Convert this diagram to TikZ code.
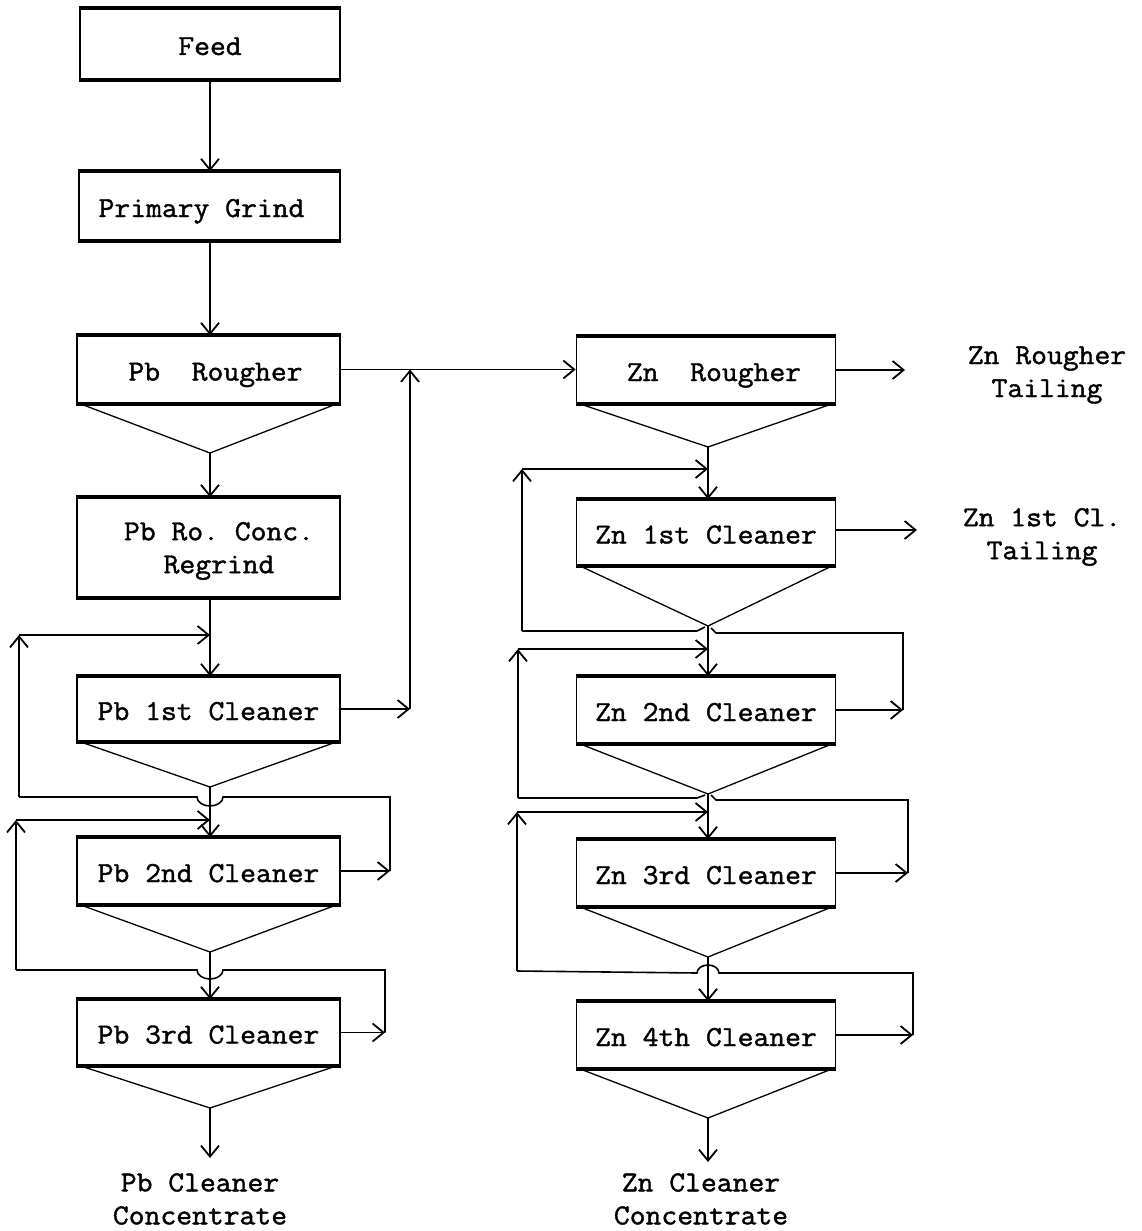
\documentclass[tikz,border=0pt]{standalone}
\usepackage{fontspec}
\setmonofont[FakeBold=1.4,FakeStretch=1.06]{Latin Modern Mono}
\usetikzlibrary{arrows.meta}
\begin{document}
\begin{tikzpicture}[x=1pt,y=-1pt,
  txt/.style={font=\ttfamily\fontsize{29}{33}\selectfont},
  box/.style={txt, draw, line width=1.6pt, inner sep=0pt, text height=22pt, text depth=0pt},
  pbbox/.style={box, minimum width=263pt},
  znbox/.style={box, minimum width=259pt},
  rim/.style={line width=4.2pt},
  hop/.style={line width=1.3pt},
  pipe/.style={line width=1.6pt},
  flow/.style={line width=1.6pt, -{Straight Barb[length=11pt,width=18pt,line width=1.8pt]}},
  lbl/.style={txt, align=center, inner sep=0pt}
]
\path[use as bounding box, fill=white] (0,0) rectangle (1141,1231);

% ---- Pb column
\coordinate (px) at (210,0);
\node[pbbox, minimum width=260pt, minimum height=70pt] (feed) at (210,44) {Feed};
\node[pbbox, minimum width=261pt, minimum height=68pt] (pg) at (209.5,206) {\hspace*{-16pt}Primary Grind};
\node[pbbox, minimum height=67pt] (pbr) at (208.5,369.5) {\hspace*{14pt}Pb~~Rougher};
\node[pbbox, minimum height=99pt] (rg) at (208.5,547.5) {};
\node[lbl] (rgtext) at (219,551) {Pb Ro. Conc.\\Regrind};
\node[pbbox, minimum height=64pt] (pb1) at (208.5,709) {Pb 1st Cleaner};
\node[pbbox, minimum height=66pt] (pb2) at (208.5,871) {Pb 2nd Cleaner};
\node[pbbox, minimum height=65pt] (pb3) at (208.5,1032.5) {Pb 3rd Cleaner};

% ---- Zn column
\coordinate (zx) at (708,0);
\node[znbox, minimum height=66pt] (znr) at (706,370) {\hspace*{16pt}Zn~~Rougher};
\node[znbox, minimum height=65pt] (zn1) at (706,532.5) {Zn 1st Cleaner};
\node[znbox, minimum height=66pt] (zn2) at (706,710) {Zn 2nd Cleaner};
\node[znbox, minimum height=66pt] (zn3) at (706,873) {Zn 3rd Cleaner};
\node[znbox, minimum height=66pt] (zn4) at (706,1035) {Zn 4th Cleaner};

\foreach \n in {feed,pg,pbr,rg,pb1,pb2,pb3,znr,zn1,zn2,zn3,zn4}
  \draw[rim] (\n.north west) -- (\n.north east) (\n.south west) -- (\n.south east);

% ---- hoppers
\coordinate (apr) at (210,453);
\coordinate (ap1) at (210,787);
\coordinate (ap2) at (210,952);
\coordinate (ap3) at (210,1108);
\coordinate (azr) at (708,447);
\coordinate (az1) at (708,626);
\coordinate (az2) at (708,794);
\coordinate (az3) at (708,957);
\coordinate (az4) at (708,1118);
\foreach \n/\a in {pbr/apr,pb1/ap1,pb2/ap2,pb3/ap3,znr/azr,zn1/az1,zn2/az2,zn3/az3,zn4/az4}
  \draw[hop] ([xshift=4pt]\n.south west) -- (\a) -- ([xshift=-4pt]\n.south east);

% ---- Pb main flow
\draw[flow] (feed.south) -- (pg.north -| px);
\draw[flow] (pg.south -| px) -- (pbr.north -| px);
\draw[flow] (apr) -- (rg.north -| px);
\draw[flow] (rg.south -| px) -- (pb1.north -| px);
\draw[flow] (ap1) -- (pb2.north -| px);
\draw[flow] (ap2) -- (pb3.north -| px);
\coordinate (pbend) at (210,1158);
\draw[flow] (ap3) -- (pbend);
\node[lbl] (pbc) at (200,1199) {Pb Cleaner\\Concentrate};

% ---- Pb rougher tail to Zn rougher, Pb 1st cleaner tail
\draw[flow] (pbr.east) -- (znr.west |- pbr.east);
\coordinate (c1) at (410,709);
\draw[flow] (pb1.east) -- (c1);
\draw[flow] (c1) -- (c1 |- pbr.east);

% ---- Pb loop 1 (2nd cleaner tail -> 1st cleaner feed)
\coordinate (l1a) at (390,871);
\coordinate (l1b) at (19,797);
\coordinate (l1c) at (19,635);
\coordinate (l1d) at (210,635);
\draw[flow] (pb2.east) -- (l1a);
\draw[pipe] (l1a) -- (390,797) -- (223,797) arc[start angle=0,end angle=180,x radius=13,y radius=9] -- (l1b);
\draw[flow] (l1b) -- (l1c);
\draw[flow] (l1c) -- (l1d);

% ---- Pb loop 2 (3rd cleaner tail -> 2nd cleaner feed)
\coordinate (l2a) at (385,1032.5);
\coordinate (l2b) at (16,970);
\coordinate (l2c) at (16,820);
\coordinate (l2d) at (210,820);
\draw[flow] (pb3.east) -- (l2a);
\draw[pipe] (l2a) -- (385,970) -- (223,970) arc[start angle=0,end angle=180,x radius=13,y radius=9] -- (l2b);
\draw[flow] (l2b) -- (l2c);
\draw[flow] (l2c) -- (l2d);

% ---- Zn main flow
\draw[flow] (azr) -- (zn1.north -| zx);
\draw[flow] (az1) -- (zn2.north -| zx);
\draw[flow] (az2) -- (zn3.north -| zx);
\draw[flow] (az3) -- (zn4.north -| zx);
\coordinate (znend) at (708,1162);
\draw[flow] (az4) -- (znend);
\node[lbl] (znc) at (701,1199) {Zn Cleaner\\Concentrate};

% ---- Zn tailings
\coordinate (zrt) at (905,370);
\draw[flow] (znr.east) -- (zrt);
\node[lbl] (zrtl) at (1047,375) {Zn Rougher\\Tailing};
\coordinate (z1t) at (917,530);
\draw[flow] (zn1.east |- z1t) -- (z1t);
\node[lbl] (z1tl) at (1042,537) {Zn 1st Cl.\\Tailing};

% ---- Zn loop A (2nd cleaner tail -> 1st cleaner feed)
\coordinate (zaa) at (903,710);
\coordinate (zab) at (522,631);
\coordinate (zac) at (522,469);
\coordinate (zad) at (708,469);
\draw[flow] (zn2.east) -- (zaa);
\draw[pipe] (zaa) -- (903,633) -- (716,633) -- (711,628);
\draw[pipe] (705,627) -- (697,631) -- (zab);
\draw[flow] (zab) -- (zac);
\draw[flow] (zac) -- (zad);

% ---- Zn loop B (3rd cleaner tail -> 2nd cleaner feed)
\coordinate (zba) at (908,873);
\coordinate (zbb) at (518,798);
\coordinate (zbc) at (518,649);
\coordinate (zbd) at (708,649);
\draw[flow] (zn3.east) -- (zba);
\draw[pipe] (zba) -- (908,800) -- (716,800) -- (711,795);
\draw[pipe] (705,795) -- (697,798) -- (zbb);
\draw[flow] (zbb) -- (zbc);
\draw[flow] (zbc) -- (zbd);

% ---- Zn loop C (4th cleaner tail -> 3rd cleaner feed)
\coordinate (zca) at (913,1035);
\coordinate (zcb) at (517,971);
\coordinate (zcc) at (517,812);
\coordinate (zcd) at (708,812);
\draw[flow] (zn4.east) -- (zca);
\draw[pipe] (zca) -- (913,973) -- (719,973) arc[start angle=0,end angle=-180,x radius=11,y radius=8] -- (zcb);
\draw[flow] (zcb) -- (zcc);
\draw[flow] (zcc) -- (zcd);
\end{tikzpicture}
\end{document}
